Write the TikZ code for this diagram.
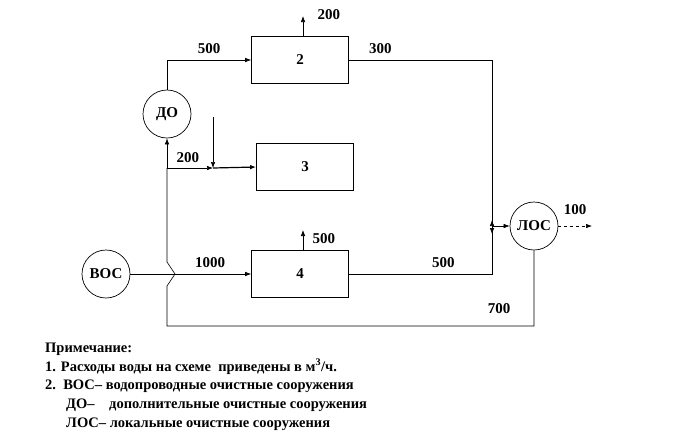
\documentclass[tikz,border=0pt]{standalone}
\usepackage{fontspec}
\setmainfont{Liberation Serif}
\usetikzlibrary{arrows.meta}

\begin{document}
\begin{tikzpicture}[x=1pt,y=-1pt,
		every node/.style={font=\bfseries\fontsize{15}{17}\selectfont},
		flow/.style={line width=0.6pt},
		arr/.style={flow,-{Latex[length=6pt,width=4.5pt]}},
		unit/.style={draw,line width=0.7pt,minimum width=97pt,minimum height=47pt,inner sep=0pt},
		plant/.style={draw,circle,line width=0.7pt,minimum size=48pt,inner sep=0pt},
		note/.style={anchor=base west,inner sep=0pt,font=\bfseries\fontsize{14.5}{17}\selectfont}]
		\useasboundingbox (0,0) rectangle (682,445);
		% units and plants
		\node[unit] (u2) at (300,60) {2};
		\node[unit] (u3) at (305,167) {3};
		\node[unit] (u4) at (300,274) {4};
		\node[plant] (do) at (167,114) {ДО};
		\node[plant] (vos) at (106,274) {ВОС};
		\node[plant] (los) at (534,226) {ЛОС};
		% junctions
		\coordinate (jn) at (492,226);
		\coordinate (tee) at (167,168);
		\coordinate (mix) at (213,168);
		\coordinate (feed) at (213,117);
		\coordinate (out2) at (303,16);
		\coordinate (out4) at (303,230);
		\coordinate (outlos) at (592,226);
		% flows
		\draw[arr] (do.north) |- (u2.west) node[pos=0.75,above=3pt] {500};
		\draw[arr] (u2.north -| out2) -- (out2) node[anchor=west,xshift=11pt,yshift=1pt] {200};
		\draw[arr] (u2.east) -| ([yshift=-8pt]jn) node[pos=0.11,above=3pt] {300};
		\draw[arr] (u4.east) -| ([yshift=6pt]jn) node[pos=0.33,above=3pt] {500};
		\draw[arr] (jn) -- (los.west);
		\draw[arr,dashed] (los.east) -- (outlos) node[above=8pt,pos=0.5] {100};
		\draw[arr] (u4.north -| out4) -- (out4) node[anchor=west,xshift=6pt,yshift=-9pt] {500};
		\draw[arr] (vos.east) -- (u4.west) node[pos=0.66,above=3pt] {1000};
		\draw[flow] (los.south) |- (167,326) -- (167,286) -- (175,274) -- (167,262) -- (tee) node[pos=1,anchor=south west,xshift=6pt,yshift=2pt] {200};
		\draw[arr] (tee) -- (do.south);
		\draw[arr] (tee) -- (mix);
		\draw[arr] (feed) -- (mix);
		\draw[arr,line width=1.2pt] (mix) -- (u3.west);
		\node[anchor=base] (q700) at (499,313) {700};
		% note
		\node[note] (n0) at (45,352) {Примечание:};
		\node[note] (n1) at (45,371) {1. Расходы воды на схеме\ \ приведены в м\textsuperscript{3}/ч.};
		\node[note] (n2) at (45,389) {2.\ \ ВОС– водопроводные очистные сооружения};
		\node[note] (n3) at (66,408) {ДО–\ \ \ \ дополнительные очистные сооружения};
		\node[note] (n4) at (66,427) {ЛОС– локальные очистные сооружения};
	\end{tikzpicture}
\end{document}
